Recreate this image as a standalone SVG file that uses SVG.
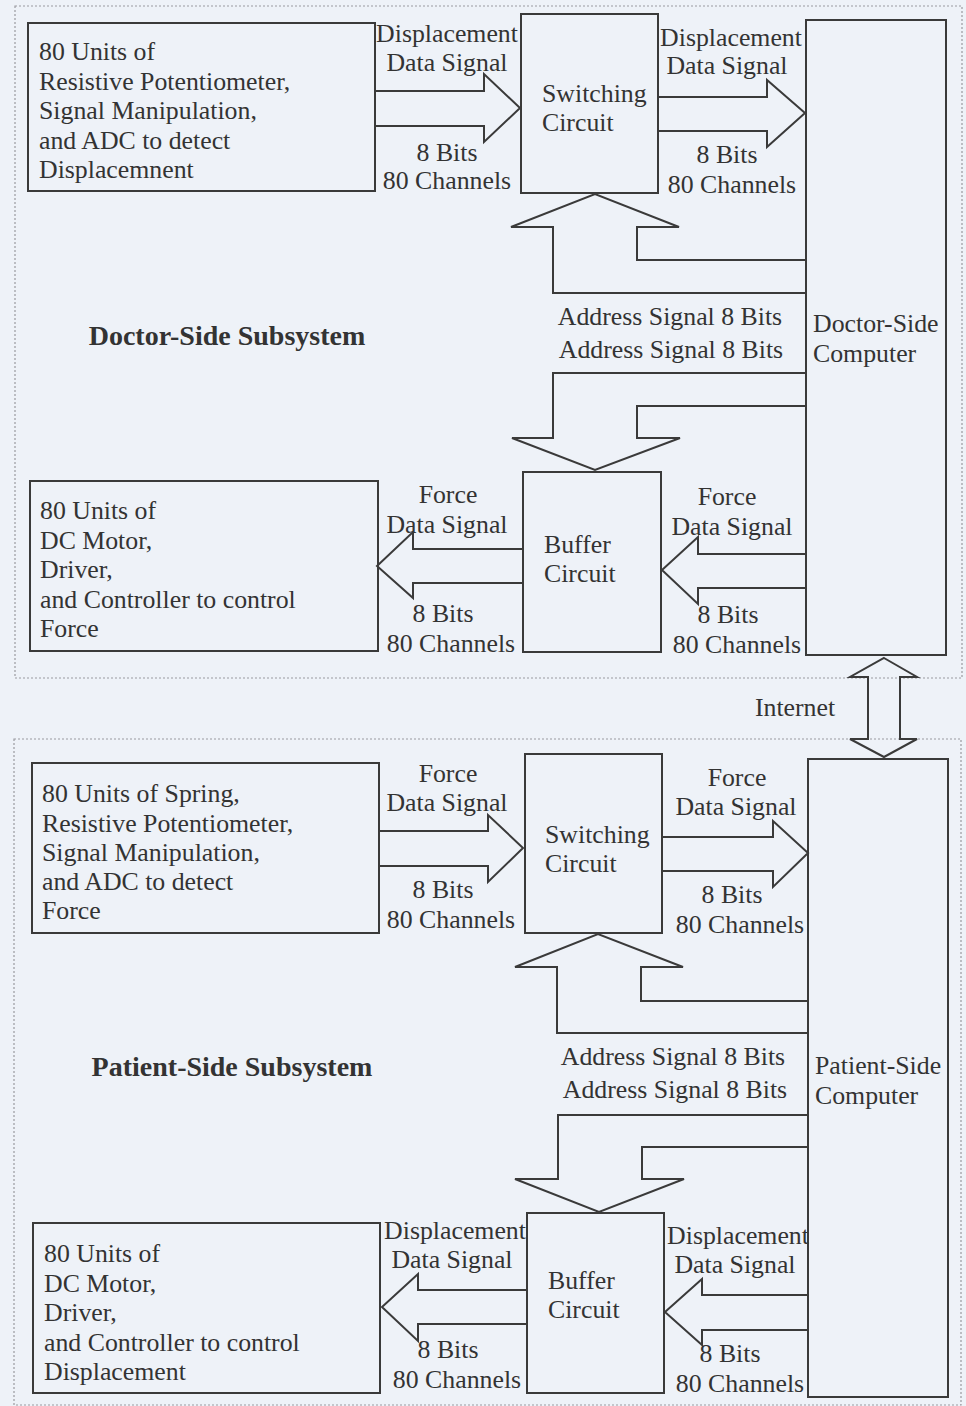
<svg xmlns="http://www.w3.org/2000/svg" width="966" height="1406" viewBox="0 0 966 1406">
<style>
.bg{fill:#eef2f8}
.box{fill:none;stroke:#3a3a3a;stroke-width:2}
.sec{fill:none;stroke:#9a9aa0;stroke-width:1.2;stroke-dasharray:2 2}
.arr{fill:none;stroke:#3a3a3a;stroke-width:2;stroke-linejoin:miter}
text{font-family:"Liberation Serif","Times New Roman",serif;font-size:25.8px;fill:#333}
.c{text-anchor:middle}
.t{font-weight:bold;font-size:28px;text-anchor:middle}
</style>
<rect class="bg" x="0" y="0" width="966" height="1406"/>
<g id="sections">
<rect class="sec" x="15" y="6" width="947" height="672"/>
<rect class="sec" x="14" y="739" width="947" height="666"/>
</g>
<g id="connectors">
<path class="arr" d="M375,91 H484 V74 L520,108 L484,142 V126 H375"/>
<path class="arr" d="M658,97 H767 V80 L805,113 L767,147 V131 H658"/>
<path class="arr" d="M806,293 H553 V227 H511 L595,194 L679,227 H637 V260 H806"/>
<path class="arr" d="M806,373 H553 V438 H512 L595,470 L680,438 H637 V406 H806"/>
<path class="arr" d="M523,549 H413 V532 L377,566 L413,598 V583 H523"/>
<path class="arr" d="M806,554 H698 V537 L662,570 L698,604 V588 H806"/>
<path class="arr" d="M884,658 L917,677 H900 V739 H917 L884,757 L850,739 H868 V677 H850 Z"/>
<path class="arr" d="M379,831 H488 V815 L523,848 L488,882 V866 H379"/>
<path class="arr" d="M662,837 H773 V821 L808,853 L773,887 V871 H662"/>
<path class="arr" d="M808,1033 H557 V967 H515 L598,934 L683,967 H641 V1001 H808"/>
<path class="arr" d="M808,1115 H558 V1179 H515 L599,1212 L684,1179 H642 V1147 H808"/>
<path class="arr" d="M527,1290 H418 V1274 L382,1307 L418,1341 V1324 H527"/>
<path class="arr" d="M808,1295 H702 V1279 L665,1312 L702,1345 V1330 H808"/>
</g>
<g id="labels">
<text class="c" x="447" y="42">Displacement</text>
<text class="c" x="447" y="71">Data Signal</text>
<text class="c" x="447" y="161">8 Bits</text>
<text class="c" x="447" y="189">80 Channels</text>
<text class="c" x="731" y="46">Displacement</text>
<text class="c" x="727" y="74">Data Signal</text>
<text class="c" x="727" y="163">8 Bits</text>
<text class="c" x="732" y="193">80 Channels</text>
<text class="c" x="670" y="325">Address Signal 8 Bits</text>
<text class="c" x="671" y="358">Address Signal 8 Bits</text>
<text class="c" x="448" y="503">Force</text>
<text class="c" x="447" y="533">Data Signal</text>
<text class="c" x="443" y="622">8 Bits</text>
<text class="c" x="451" y="652">80 Channels</text>
<text class="c" x="727" y="505">Force</text>
<text class="c" x="732" y="535">Data Signal</text>
<text class="c" x="728" y="623">8 Bits</text>
<text class="c" x="737" y="653">80 Channels</text>
<text class="c" x="795" y="716">Internet</text>
<text class="c" x="448" y="782">Force</text>
<text class="c" x="447" y="811">Data Signal</text>
<text class="c" x="443" y="898">8 Bits</text>
<text class="c" x="451" y="928">80 Channels</text>
<text class="c" x="737" y="786">Force</text>
<text class="c" x="736" y="815">Data Signal</text>
<text class="c" x="732" y="903">8 Bits</text>
<text class="c" x="740" y="933">80 Channels</text>
<text class="c" x="673" y="1065">Address Signal 8 Bits</text>
<text class="c" x="675" y="1098">Address Signal 8 Bits</text>
<text class="c" x="455" y="1239">Displacement</text>
<text class="c" x="452" y="1268">Data Signal</text>
<text class="c" x="448" y="1358">8 Bits</text>
<text class="c" x="457" y="1388">80 Channels</text>
<text class="c" x="738" y="1244">Displacement</text>
<text class="c" x="735" y="1273">Data Signal</text>
<text class="c" x="730" y="1362">8 Bits</text>
<text class="c" x="740" y="1392">80 Channels</text>
<text class="t" x="227" y="345">Doctor-Side Subsystem</text>
<text class="t" x="232" y="1076">Patient-Side Subsystem</text>
</g>
<g id="sensor-displacement">
<rect class="box" x="28" y="23" width="347" height="168"/>
<text x="39" y="60">80 Units of</text>
<text x="39" y="90">Resistive Potentiometer,</text>
<text x="39" y="119">Signal Manipulation,</text>
<text x="39" y="149">and ADC to detect</text>
<text x="39" y="178">Displacemnent</text>
</g>
<g id="doctor-switching">
<rect class="box" x="521" y="14" width="137" height="179"/>
<text x="542" y="102">Switching</text>
<text x="542" y="131">Circuit</text>
</g>
<g id="doctor-computer">
<rect class="box" x="806" y="20" width="140" height="635"/>
<text x="813" y="332">Doctor-Side</text>
<text x="813" y="362">Computer</text>
</g>
<g id="doctor-buffer">
<rect class="box" x="523" y="472" width="138" height="180"/>
<text x="544" y="553">Buffer</text>
<text x="544" y="582">Circuit</text>
</g>
<g id="motor-force">
<rect class="box" x="30" y="481" width="348" height="170"/>
<text x="40" y="519">80 Units of</text>
<text x="40" y="549">DC Motor,</text>
<text x="40" y="578">Driver,</text>
<text x="40" y="608">and Controller to control</text>
<text x="40" y="637">Force</text>
</g>
<g id="sensor-force">
<rect class="box" x="32" y="763" width="347" height="170"/>
<text x="42" y="802">80 Units of Spring,</text>
<text x="42" y="832">Resistive Potentiometer,</text>
<text x="42" y="861">Signal Manipulation,</text>
<text x="42" y="890">and ADC to detect</text>
<text x="42" y="919">Force</text>
</g>
<g id="patient-switching">
<rect class="box" x="525" y="754" width="137" height="179"/>
<text x="545" y="843">Switching</text>
<text x="545" y="872">Circuit</text>
</g>
<g id="patient-computer">
<rect class="box" x="808" y="759" width="140" height="638"/>
<text x="815" y="1074">Patient-Side</text>
<text x="815" y="1104">Computer</text>
</g>
<g id="patient-buffer">
<rect class="box" x="527" y="1213" width="137" height="180"/>
<text x="548" y="1289">Buffer</text>
<text x="548" y="1318">Circuit</text>
</g>
<g id="motor-displacement">
<rect class="box" x="33" y="1223" width="347" height="170"/>
<text x="44" y="1262">80 Units of</text>
<text x="44" y="1292">DC Motor,</text>
<text x="44" y="1321">Driver,</text>
<text x="44" y="1351">and Controller to control</text>
<text x="44" y="1380">Displacement</text>
</g>
</svg>
